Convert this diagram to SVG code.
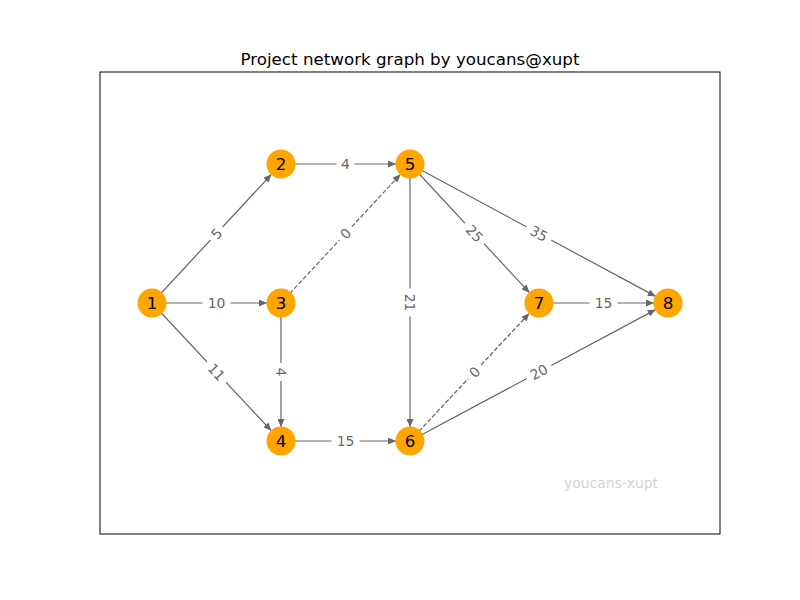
<svg xmlns="http://www.w3.org/2000/svg" width="800" height="600" viewBox="0 0 800 600">
<style>
.edge{stroke:#666;stroke-width:1.2;fill:none}
.dash{stroke:#666;stroke-width:1.2;stroke-dasharray:4.5,2;fill:none}
.node circle{fill:#ffa500}
.node text{font-family:"DejaVu Sans",sans-serif;font-size:16.7px;fill:#000;text-anchor:middle;dominant-baseline:central}
.lbl rect{fill:#fff}
.lbl text{font-family:"DejaVu Sans",sans-serif;font-size:13.9px;fill:#666;text-anchor:middle;dominant-baseline:central}
</style>
<defs>
<marker id="arr" markerUnits="userSpaceOnUse" markerWidth="8" markerHeight="7" refX="8" refY="3.5" orient="auto">
<path d="M0,0 L8,3.5 L0,7 z" fill="#666"/>
</marker>
</defs>
<rect x="0" y="0" width="800" height="600" fill="#fff"/>
<rect x="100" y="72" width="620" height="462" fill="none" stroke="#000" stroke-width="1"/>
<text x="410" y="59" font-family="DejaVu Sans,sans-serif" font-size="16.7" text-anchor="middle" dominant-baseline="central">Project network graph by youcans@xupt</text>
<text x="611" y="483" font-family="DejaVu Sans,sans-serif" font-size="13.9" fill="#d3d3d3" text-anchor="middle" dominant-baseline="central">youcans-xupt</text>
<g id="connectors">
<line class="edge" x1="152" y1="303" x2="271.5" y2="174.3" marker-end="url(#arr)"/>
<line class="edge" x1="152" y1="303" x2="267" y2="303" marker-end="url(#arr)"/>
<line class="edge" x1="152" y1="303" x2="271.4" y2="430.8" marker-end="url(#arr)"/>
<line class="edge" x1="281" y1="164" x2="396" y2="164" marker-end="url(#arr)"/>
<line class="dash" x1="281" y1="303" x2="400.5" y2="174.3" marker-end="url(#arr)"/>
<line class="edge" x1="281" y1="303" x2="281" y2="427" marker-end="url(#arr)"/>
<line class="edge" x1="281" y1="441" x2="396" y2="441" marker-end="url(#arr)"/>
<line class="edge" x1="410" y1="164" x2="410" y2="427" marker-end="url(#arr)"/>
<line class="edge" x1="410" y1="164" x2="529.5" y2="292.7" marker-end="url(#arr)"/>
<line class="edge" x1="410" y1="164" x2="655.7" y2="296.4" marker-end="url(#arr)"/>
<line class="dash" x1="410" y1="441" x2="529.4" y2="313.2" marker-end="url(#arr)"/>
<line class="edge" x1="410" y1="441" x2="655.6" y2="309.6" marker-end="url(#arr)"/>
<line class="edge" x1="539" y1="303" x2="654" y2="303" marker-end="url(#arr)"/>
<g class="lbl" transform="translate(216.5,233.5) rotate(-47.1)"><rect x="-9" y="-9" width="18" height="18"/><text>5</text></g>
<g class="lbl" transform="translate(216.5,303)"><rect x="-14" y="-9" width="28" height="18"/><text>10</text></g>
<g class="lbl" transform="translate(216.5,372) rotate(46.9)"><rect x="-14" y="-9" width="28" height="18"/><text>11</text></g>
<g class="lbl" transform="translate(345.5,164)"><rect x="-9" y="-9" width="18" height="18"/><text>4</text></g>
<g class="lbl" transform="translate(345.5,233.5) rotate(-47.1)"><rect x="-9" y="-9" width="18" height="18"/><text>0</text></g>
<g class="lbl" transform="translate(281,372) rotate(90)"><rect x="-9" y="-9" width="18" height="18"/><text>4</text></g>
<g class="lbl" transform="translate(345.5,441)"><rect x="-14" y="-9" width="28" height="18"/><text>15</text></g>
<g class="lbl" transform="translate(410,302.5) rotate(90)"><rect x="-14" y="-9" width="28" height="18"/><text>21</text></g>
<g class="lbl" transform="translate(474.5,233.5) rotate(47.1)"><rect x="-14" y="-9" width="28" height="18"/><text>25</text></g>
<g class="lbl" transform="translate(539,233.5) rotate(28.3)"><rect x="-14" y="-9" width="28" height="18"/><text>35</text></g>
<g class="lbl" transform="translate(474.5,372) rotate(-46.9)"><rect x="-9" y="-9" width="18" height="18"/><text>0</text></g>
<g class="lbl" transform="translate(539,372) rotate(-28.1)"><rect x="-14" y="-9" width="28" height="18"/><text>20</text></g>
<g class="lbl" transform="translate(603.5,303)"><rect x="-14" y="-9" width="28" height="18"/><text>15</text></g>
</g>
<g id="n1" class="node"><circle cx="152" cy="303" r="14.5"/><text x="152" y="303">1</text></g>
<g id="n2" class="node"><circle cx="281" cy="164" r="14.5"/><text x="281" y="164">2</text></g>
<g id="n3" class="node"><circle cx="281" cy="303" r="14.5"/><text x="281" y="303">3</text></g>
<g id="n4" class="node"><circle cx="281" cy="441" r="14.5"/><text x="281" y="441">4</text></g>
<g id="n5" class="node"><circle cx="410" cy="164" r="14.5"/><text x="410" y="164">5</text></g>
<g id="n6" class="node"><circle cx="410" cy="441" r="14.5"/><text x="410" y="441">6</text></g>
<g id="n7" class="node"><circle cx="539" cy="303" r="14.5"/><text x="539" y="303">7</text></g>
<g id="n8" class="node"><circle cx="668" cy="303" r="14.5"/><text x="668" y="303">8</text></g>
</svg>
